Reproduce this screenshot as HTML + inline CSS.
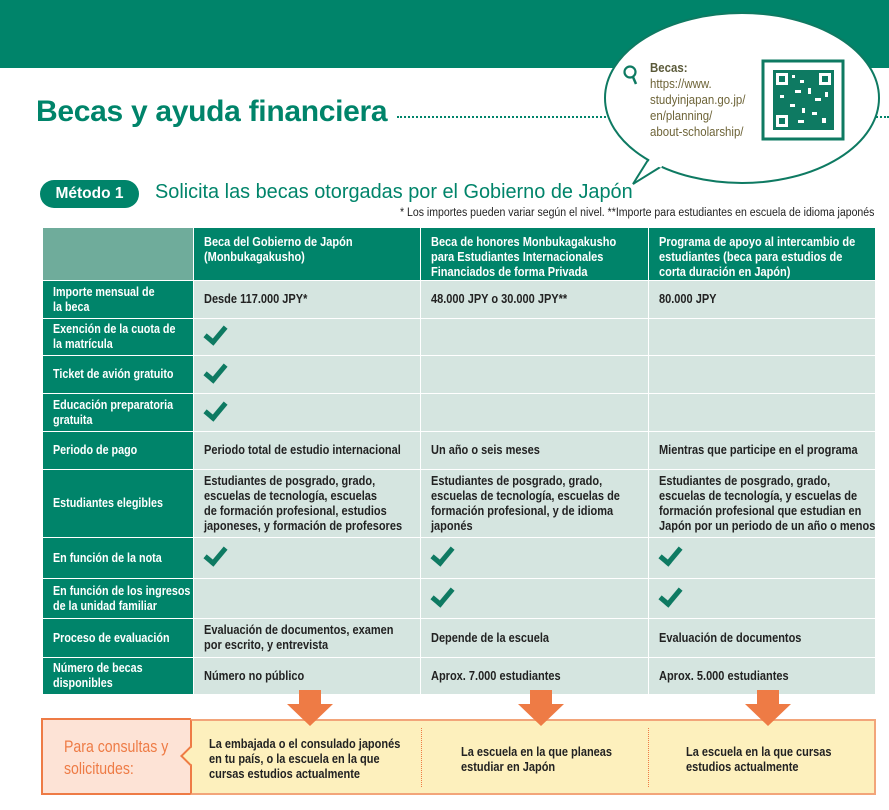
<!DOCTYPE html>
<html><head><meta charset="utf-8">
<style>
*{margin:0;padding:0;box-sizing:border-box}
body{width:889px;height:810px;background:#fff;position:relative;overflow:hidden;font-family:"Liberation Sans",sans-serif}
.abs{position:absolute}
.s{display:inline-block;transform:scaleX(.88);transform-origin:0 50%;white-space:nowrap}
td.l .s{transform:scaleX(.86)}
.n{font-weight:bold;font-size:12.5px;line-height:15px}
table{position:absolute;left:42px;top:227px;width:833px;border-collapse:collapse;table-layout:fixed}
td{border:1.5px solid #fff;padding:0 10px;vertical-align:middle;font-weight:bold;font-size:12.5px;line-height:15px;color:#222;background:#d5e5e0;overflow:visible;white-space:nowrap;max-width:0}
td.l{background:#00846a;color:#fff}
tr.h td{background:#00846a;color:#fff;vertical-align:top;padding-top:7px}
tr.h td.e{background:#6fac9b}
.ck{display:inline-block;width:22px;height:14px;position:relative}
.ck::after{content:"";position:absolute;left:5px;top:-6px;width:8px;height:17px;border-right:5px solid #0e7a62;border-bottom:5px solid #0e7a62;transform:rotate(40deg)}
</style></head><body>
<div class="abs" style="left:0;top:0;width:889px;height:68px;background:#00846a"></div>
<div class="abs" style="left:36px;top:95px;font-size:30px;font-weight:bold;color:#00846a;letter-spacing:-0.3px">Becas y ayuda financiera</div>
<div class="abs" style="left:397px;top:116px;width:492px;border-top:2px dotted #00846a"></div>
<svg class="abs" style="left:0;top:0" width="889" height="200">
<path d="M648,160 L633,184 L662,166" fill="#fff" stroke="#0e7a62" stroke-width="2"/>
<ellipse cx="742" cy="98" rx="137" ry="85" fill="#fff" stroke="#0e7a62" stroke-width="2"/>
<path d="M649,161 L662,166" stroke="#fff" stroke-width="4"/>
<circle cx="630" cy="72" r="5.5" fill="none" stroke="#0e7a62" stroke-width="2.2"/>
<line x1="633" y1="77" x2="636" y2="84" stroke="#0e7a62" stroke-width="2.5"/>
<rect x="763" y="61" width="80" height="78" fill="#fff" stroke="#0e7a62" stroke-width="3"/>
<rect x="773" y="70" width="61" height="60" fill="#0e7a62"/>
<g fill="#fff">
<rect x="776" y="73" width="12" height="12"/><rect x="819" y="73" width="12" height="12"/><rect x="776" y="115" width="12" height="12"/>
<rect x="792" y="75" width="3" height="3"/><rect x="800" y="80" width="4" height="3"/><rect x="795" y="90" width="6" height="3"/><rect x="808" y="88" width="3" height="6"/>
<rect x="780" y="95" width="4" height="3"/><rect x="815" y="98" width="6" height="3"/><rect x="825" y="92" width="3" height="5"/><rect x="790" y="104" width="5" height="3"/>
<rect x="802" y="108" width="3" height="5"/><rect x="812" y="112" width="5" height="3"/><rect x="822" y="118" width="4" height="5"/><rect x="798" y="120" width="6" height="3"/>
</g>
<g fill="#0e7a62"><rect x="779" y="76" width="6" height="6"/><rect x="822" y="76" width="6" height="6"/><rect x="779" y="118" width="6" height="6"/></g>
</svg>
<div class="abs" style="left:650px;top:60px;font-size:13px;line-height:16px;color:#6e6438"><span class="s" style="transform:scaleX(.88)"><b style="color:#5b5a3a">Becas:</b><br>https://www.<br>studyinjapan.go.jp/<br>en/planning/<br>about-scholarship/</span></div>
<div class="abs" style="left:40px;top:180px;width:99px;height:28px;border-radius:14px;background:#00846a;color:#fff;font-weight:bold;font-size:15.5px;line-height:28px;text-align:center">Método 1</div>
<div class="abs" style="left:155px;top:181px;font-size:19.9px;color:#00846a">Solicita las becas otorgadas por el Gobierno de Japón</div>
<div class="abs" style="left:400px;top:207px;font-size:11.5px;color:#222"><span class="s" style="transform:scaleX(.915)">* Los importes pueden variar según el nivel. **Importe para estudiantes en escuela de idioma japonés</span></div>
<table>
<colgroup><col style="width:151px"><col style="width:227px"><col style="width:228px"><col style="width:227px"></colgroup>
<tr class="h" style="height:53px"><td class="e"></td><td><span class="s">Beca del Gobierno de Japón<br>(Monbukagakusho)</span></td><td><span class="s">Beca de honores Monbukagakusho<br>para Estudiantes Internacionales<br>Financiados de forma Privada</span></td><td><span class="s">Programa de apoyo al intercambio de<br>estudiantes (beca para estudios de<br>corta duración en Japón)</span></td></tr>
<tr style="height:38px"><td class="l"><span class="s">Importe mensual de<br>la beca</span></td><td><span class="s">Desde 117.000 JPY*</span></td><td><span class="s">48.000 JPY o 30.000 JPY**</span></td><td><span class="s">80.000 JPY</span></td></tr>
<tr style="height:37px"><td class="l"><span class="s">Exención de la cuota de<br>la matrícula</span></td><td><span class="ck"></span></td><td></td><td></td></tr>
<tr style="height:38px"><td class="l"><span class="s">Ticket de avión gratuito</span></td><td><span class="ck"></span></td><td></td><td></td></tr>
<tr style="height:38px"><td class="l"><span class="s">Educación preparatoria<br>gratuita</span></td><td><span class="ck"></span></td><td></td><td></td></tr>
<tr style="height:38px"><td class="l"><span class="s">Periodo de pago</span></td><td><span class="s">Periodo total de estudio internacional</span></td><td><span class="s">Un año o seis meses</span></td><td><span class="s">Mientras que participe en el programa</span></td></tr>
<tr style="height:68px"><td class="l"><span class="s">Estudiantes elegibles</span></td><td><span class="s">Estudiantes de posgrado, grado,<br>escuelas de tecnología, escuelas<br>de formación profesional, estudios<br>japoneses, y formación de profesores</span></td><td><span class="s">Estudiantes de posgrado, grado,<br>escuelas de tecnología, escuelas de<br>formación profesional, y de idioma<br>japonés</span></td><td><span class="s">Estudiantes de posgrado, grado,<br>escuelas de tecnología, y escuelas de<br>formación profesional que estudian en<br>Japón por un periodo de un año o menos</span></td></tr>
<tr style="height:41px"><td class="l"><span class="s">En función de la nota</span></td><td><span class="ck"></span></td><td><span class="ck"></span></td><td><span class="ck"></span></td></tr>
<tr style="height:40px"><td class="l"><span class="s">En función de los ingresos<br>de la unidad familiar</span></td><td></td><td><span class="ck"></span></td><td><span class="ck"></span></td></tr>
<tr style="height:39px"><td class="l"><span class="s">Proceso de evaluación</span></td><td><span class="s">Evaluación de documentos, examen<br>por escrito, y entrevista</span></td><td><span class="s">Depende de la escuela</span></td><td><span class="s">Evaluación de documentos</span></td></tr>
<tr style="height:37px"><td class="l"><span class="s">Número de becas<br>disponibles</span></td><td><span class="s">Número no público</span></td><td><span class="s">Aprox. 7.000 estudiantes</span></td><td><span class="s">Aprox. 5.000 estudiantes</span></td></tr>
</table>
<div class="abs" style="left:41px;top:718px;width:150px;height:77px;background:#fde3d6;border:2px solid #ee7b45;border-right:none"></div>
<div class="abs" style="left:190px;top:719px;width:686px;height:76px;background:#fdf0bd;border:2px solid #f2a57a;border-left:2px solid #ee7b45"></div>
<div class="abs" style="left:183px;top:749px;width:14px;height:14px;background:#fdf0bd;border-left:2px solid #ee7b45;border-bottom:2px solid #ee7b45;transform:rotate(45deg)"></div>
<div class="abs" style="left:64px;top:736px;font-size:17px;line-height:22px;color:#ee7b45"><span class="s" style="transform:scaleX(.83)">Para consultas y<br>solicitudes:</span></div>
<div class="abs" style="left:421px;top:728px;height:59px;border-left:1px dotted #ee7b45"></div>
<div class="abs" style="left:648px;top:728px;height:59px;border-left:1px dotted #ee7b45"></div>
<div class="abs n" style="left:209px;top:737px;color:#222"><span class="s">La embajada o el consulado japonés<br>en tu país, o la escuela en la que<br>cursas estudios actualmente</span></div>
<div class="abs n" style="left:461px;top:745px;color:#222"><span class="s">La escuela en la que planeas<br>estudiar en Japón</span></div>
<div class="abs n" style="left:686px;top:745px;color:#222"><span class="s">La escuela en la que cursas<br>estudios actualmente</span></div>
<svg class="abs" style="left:0;top:688px" width="889" height="42">
<g fill="#ee7b45">
<path d="M299,2 h22 v14 h12 l-23,22 l-23,-22 h12z"/>
<path d="M530,2 h22 v14 h12 l-23,22 l-23,-22 h12z"/>
<path d="M757,2 h22 v14 h12 l-23,22 l-23,-22 h12z"/>
</g>
</svg>
</body></html>
